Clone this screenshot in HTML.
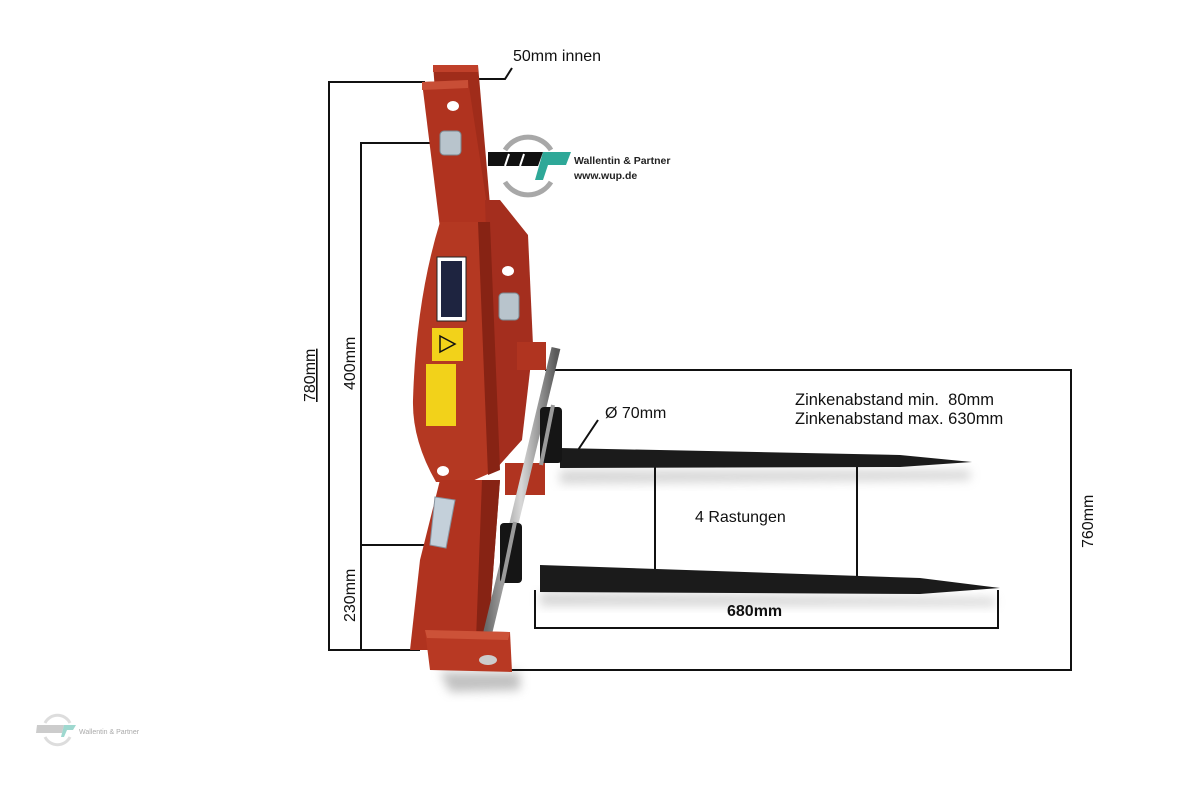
<!DOCTYPE html>
<html><head><meta charset="utf-8"><style>
html,body{margin:0;padding:0;background:#fff}
svg{display:block}
text{font-family:"Liberation Sans",sans-serif}
</style></head><body>
<svg width="1200" height="800" viewBox="0 0 1200 800" xmlns="http://www.w3.org/2000/svg">
<defs>
<filter id="bl" x="-20%" y="-50%" width="140%" height="200%"><feGaussianBlur stdDeviation="5"/></filter>
<linearGradient id="rod" x1="0" x2="1"><stop offset="0" stop-color="#6a6a6a"/><stop offset="0.5" stop-color="#d8d8d8"/><stop offset="1" stop-color="#5a5a5a"/></linearGradient>
</defs>
<path d="M560 470 L970 470 L970 480 L560 484Z" fill="#bbb" opacity="0.6" filter="url(#bl)"/>
<path d="M540 592 L995 598 L995 606 L540 606Z" fill="#bbb" opacity="0.6" filter="url(#bl)"/>
<path d="M440 672 L520 672 L520 690 L450 692Z" fill="#999" opacity="0.6" filter="url(#bl)"/>

<g stroke="#111" stroke-width="2" fill="none">
<polyline points="425,82 329,82 329,650 420,650"/>
<polyline points="442,143 361,143 361,650"/>
<line x1="361" y1="545" x2="432" y2="545"/>
<polyline points="478,79 505,79 512,68"/>
<polyline points="545,370 1071,370 1071,670 505,670"/>
<polyline points="535,590 535,628 998,628 998,590"/>
<line x1="655" y1="463" x2="655" y2="578"/>
<line x1="857" y1="463" x2="857" y2="581"/>
<line x1="578" y1="450" x2="598" y2="420"/>
</g>

<polygon points="433,65 478,65 490,205 444,205" fill="#a02c1a"/>
<polygon points="433,65 478,65 478,72 433,72" fill="#c0402a"/>
<polygon points="422,82 468,80 490,225 440,228" fill="#b0331f"/>
<polygon points="422,82 468,80 468,88 422,90" fill="#c84e36"/>
<polygon points="485,200 500,200 528,235 533,345 522,440 495,470 488,300" fill="#a42e1e"/>
<path d="M440,222 L490,222 L497,470 L470,482 L436,482 Q412,440 413,400 Q416,300 440,222Z" fill="#b43822"/>
<path d="M478,222 L490,222 L500,470 L488,475Z" fill="#872314"/>
<rect x="437" y="257" width="29" height="64" fill="#fff" stroke="#222" stroke-width="1"/>
<rect x="441" y="261" width="21" height="56" fill="#1e2440"/>
<rect x="432" y="328" width="31" height="33" fill="#f2d21a"/>
<path d="M440,336 L455,344 L440,352Z" fill="none" stroke="#111" stroke-width="1.5"/>
<rect x="426" y="364" width="30" height="62" fill="#f2d21a"/>
<ellipse cx="453" cy="106" rx="6" ry="5" fill="#fff"/>
<ellipse cx="508" cy="271" rx="6" ry="5" fill="#fff"/>
<ellipse cx="443" cy="471" rx="6" ry="5" fill="#fff"/>
<polygon points="517,342 546,342 546,370 517,370" fill="#b03420"/>
<polygon points="505,463 545,463 545,495 505,495" fill="#b03420"/>
<polygon points="440,480 500,480 488,640 470,650 410,650 420,560" fill="#b0331f"/>
<polygon points="482,480 500,480 488,640 476,640" fill="#872314"/>
<line x1="556" y1="348" x2="486" y2="640" stroke="url(#rod)" stroke-width="9"/>
<polygon points="425,630 510,632 512,672 430,670" fill="#b83923"/>
<polygon points="425,630 510,632 508,640 427,638" fill="#cc5238"/>
<ellipse cx="488" cy="660" rx="9" ry="5" fill="#ccc"/>
<rect x="440" y="131" width="21" height="24" rx="4" fill="#b8c4cc" stroke="#7a8890"/>
<rect x="499" y="293" width="20" height="27" rx="4" fill="#b8c4cc" stroke="#7a8890"/>
<polygon points="435,497 455,500 446,548 430,545" fill="#c4d0da" stroke="#8894a0"/>
<path d="M560,448 L900,455 L972,462 L900,467 L560,468Z" fill="#1b1b1b"/>
<path d="M540,565 L920,578 L1000,588 L920,594 L540,592Z" fill="#1b1b1b"/>
<rect x="540" y="407" width="22" height="56" rx="4" fill="#151515"/>
<rect x="500" y="523" width="22" height="60" rx="4" fill="#151515"/>
<line x1="553" y1="405" x2="541" y2="465" stroke="#9a9a9a" stroke-width="4"/>
<line x1="515" y1="522" x2="502" y2="585" stroke="#9a9a9a" stroke-width="4"/>

<path d="M505,150 A27,27 0 0 1 551,150" fill="none" stroke="#a8a8a8" stroke-width="5"/>
<path d="M505,182 A27,27 0 0 0 551,182" fill="none" stroke="#a8a8a8" stroke-width="5"/>
<polygon points="488,152 543,152 538,166 488,166" fill="#111"/>
<g stroke="#fff" stroke-width="2"><line x1="505" y1="166" x2="509" y2="154"/><line x1="520" y1="166" x2="524" y2="154"/></g>
<polygon points="543,152 571,152 566,165 548,165 543,180 535,180" fill="#2ea898"/>
<text x="574" y="164" font-size="10.5" font-weight="bold" fill="#222" font-family="Liberation Sans Narrow,Liberation Sans,sans-serif">Wallentin &amp; Partner</text>
<text x="574" y="179" font-size="10.5" font-weight="bold" fill="#222" font-family="Liberation Sans Narrow,Liberation Sans,sans-serif">www.wup.de</text>
<path d="M45,723 A14,14 0 0 1 70,723" fill="none" stroke="#ddd" stroke-width="3"/>
<path d="M45,737 A14,14 0 0 0 70,737" fill="none" stroke="#ddd" stroke-width="3"/>
<polygon points="37,725 64,725 62,733 36,733" fill="#ccc"/>
<polygon points="64,725 76,725 73,730 67,730 64,737 61,737" fill="#9ed8cf"/>
<text x="79" y="734" font-size="7" fill="#aaa">Wallentin &amp; Partner</text>

<text x="513" y="61" font-size="16" fill="#111">50mm innen</text>
<text transform="translate(315,402) rotate(-90)" font-size="16" fill="#111" text-decoration="underline">780mm</text>
<text transform="translate(355,390) rotate(-90)" font-size="16" fill="#111">400mm</text>
<text transform="translate(355,622) rotate(-90)" font-size="16" fill="#111">230mm</text>
<text transform="translate(1093,548) rotate(-90)" font-size="16" fill="#111">760mm</text>
<text x="605" y="418" font-size="16" fill="#111">Ø 70mm</text>
<text x="795" y="405" font-size="16.5" fill="#111" xml:space="preserve">Zinkenabstand min.  80mm</text>
<text x="795" y="424" font-size="16.5" fill="#111">Zinkenabstand max. 630mm</text>
<text x="695" y="522" font-size="16" fill="#111">4 Rastungen</text>
<text x="727" y="616" font-size="16" font-weight="bold" fill="#111">680mm</text>
</svg>
</body></html>
